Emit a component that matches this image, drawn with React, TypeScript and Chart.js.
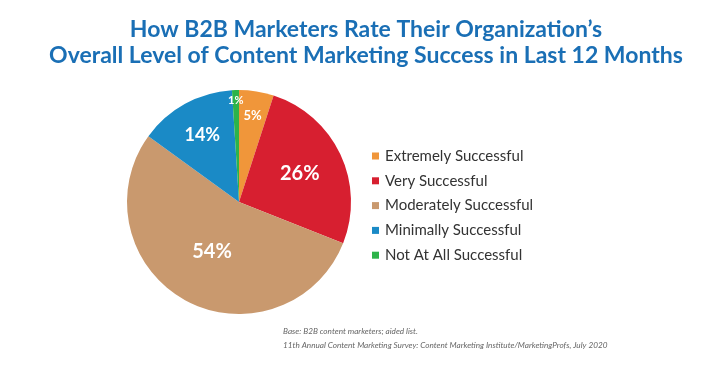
import React, { useEffect, useRef } from "react";
import { Chart, registerables } from "chart.js";

Chart.register(...registerables);

const categories = [
  "Extremely Successful",
  "Very Successful",
  "Moderately Successful",
  "Minimally Successful",
  "Not At All Successful",
];
const values = [5, 26, 54, 14, 1];
const valueLabels = ["5%", "26%", "54%", "14%", "1%"];
const titleLines = [
  "How B2B Marketers Rate Their Organization\u2019s",
  "Overall Level of Content Marketing Success in Last 12 Months",
];
const footnotes = [
  "Base: B2B content marketers; aided list.",
  "11th Annual Content Marketing Survey: Content Marketing Institute/MarketingProfs, July 2020",
];

const colors = ["#F0963A", "#D71F30", "#C9996E", "#1A8AC6", "#2DB34A"];
const labelFontSizes = [13, 20, 20, 18, 11];
const labelRadius = [0.78, 0.6, 0.5, 0.68, 0.91];

const overlay = {
  id: "overlay",
  afterDatasetsDraw(chart: any) {
    const ctx = chart.ctx as CanvasRenderingContext2D;
    const meta = chart.getDatasetMeta(0);
    ctx.save();
    // value labels
    meta.data.forEach((arc: any, i: number) => {
      const { x, y, startAngle, endAngle, outerRadius } = arc.getProps(
        ["x", "y", "startAngle", "endAngle", "outerRadius"],
        true
      );
      const mid = (startAngle + endAngle) / 2;
      const r = outerRadius * labelRadius[i];
      ctx.fillStyle = "#ffffff";
      ctx.font = `bold ${labelFontSizes[i]}px Lato, "Noto Sans", sans-serif`;
      ctx.textAlign = "center";
      ctx.textBaseline = "middle";
      ctx.fillText(valueLabels[i], x + Math.cos(mid) * r, y + Math.sin(mid) * r);
    });
    // title
    ctx.fillStyle = "#1A6FB5";
    ctx.font = `bold 23px Lato, "Noto Sans", sans-serif`;
    ctx.textAlign = "center";
    ctx.textBaseline = "alphabetic";
    ctx.fillText(titleLines[0], 366, 37);
    ctx.fillText(titleLines[1], 366, 63);
    // legend
    ctx.textAlign = "left";
    ctx.textBaseline = "middle";
    ctx.font = `15px Lato, "Noto Sans", sans-serif`;
    const lx = 372;
    const ly0 = 156;
    const step = 24.8;
    chart.data.labels.forEach((lab: string, i: number) => {
      const yy = ly0 + i * step;
      ctx.fillStyle = chart.data.datasets[0].backgroundColor[i];
      ctx.fillRect(lx, yy - 3.5, 7, 7);
      ctx.fillStyle = "#333333";
      ctx.fillText(lab, lx + 13, yy);
    });
    // footnotes
    ctx.fillStyle = "#666666";
    ctx.font = `italic 8.2px Lato, "Noto Sans", sans-serif`;
    ctx.fillText(footnotes[0], 283, 331);
    ctx.fillText(footnotes[1], 283, 345);
    ctx.restore();
  },
};

export default function App() {
  const ref = useRef<HTMLCanvasElement | null>(null);
  useEffect(() => {
    document.body.style.margin = "0";
    const chart = new Chart(ref.current!, {
      type: "pie",
      data: {
        labels: categories,
        datasets: [
          {
            data: values,
            backgroundColor: colors,
            borderWidth: 0,
          },
        ],
      },
      options: {
        animation: false,
        responsive: false,
        layout: { padding: { top: 90, bottom: 67, left: 127, right: 371 } },
        plugins: {
          legend: { display: false },
          title: { display: false },
          tooltip: { enabled: false },
        },
      },
      plugins: [overlay],
    });
    return () => chart.destroy();
  }, []);
  return (
    <div style={{ width: 722, height: 381, background: "#fff" }}>
      <canvas ref={ref} width={722} height={381} />
    </div>
  );
}
